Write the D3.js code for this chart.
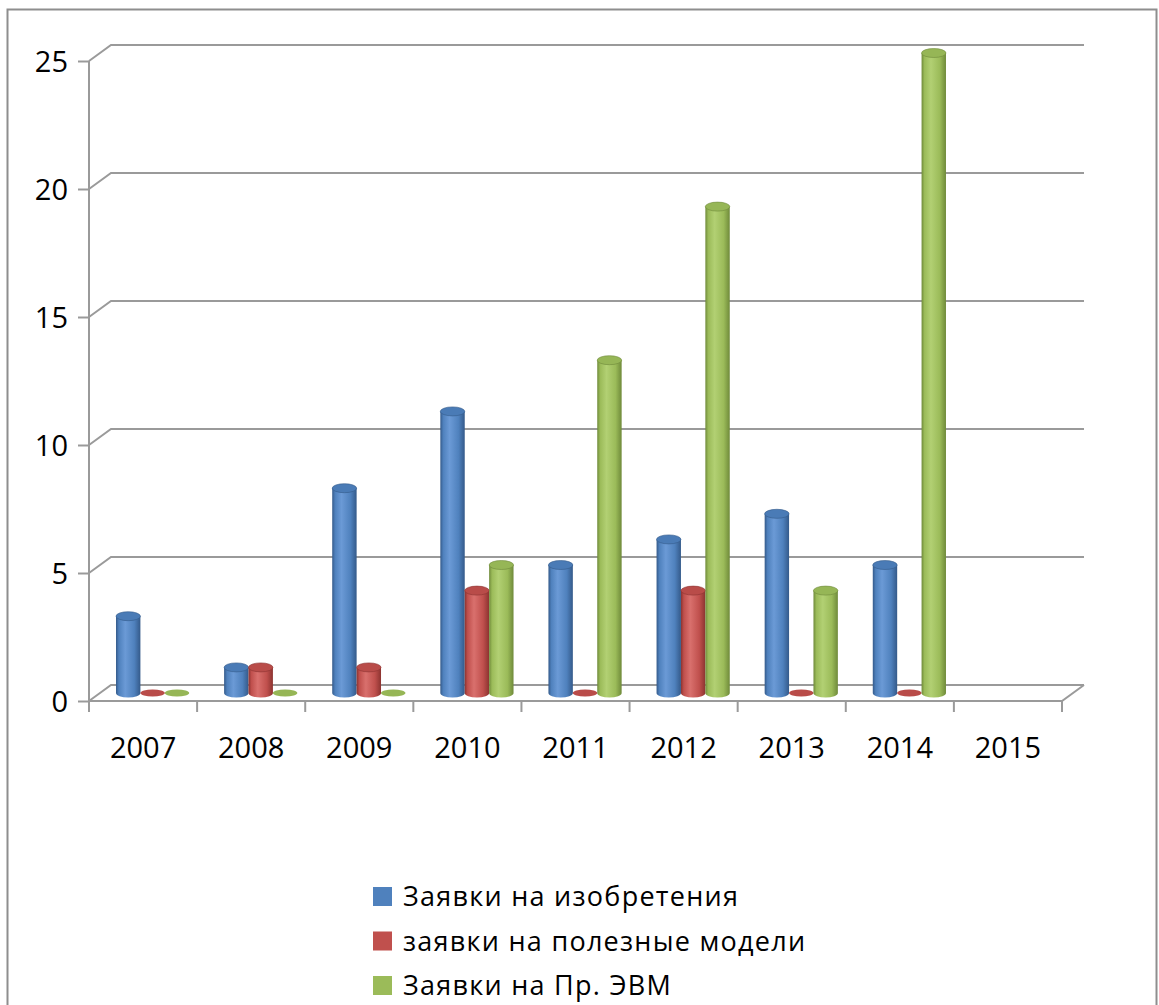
<!DOCTYPE html>
<html>
<head>
<meta charset="utf-8">
<script src="https://cdn.jsdelivr.net/npm/d3@7"></script>
<style>
  body { margin: 0; background: #fff; }
  svg { display: block; }
  text { font-family: "Open Sans", "Noto Sans", sans-serif; fill: #000; }
</style>
</head>
<body>
<div id="chart"></div>
<script>
// data
const years = ["2007", "2008", "2009", "2010", "2011", "2012", "2013", "2014", "2015"];
const seriesNames = ["Заявки на изобретения", "заявки на полезные модели", "Заявки на Пр. ЭВМ"];
const inventions = [3, 1, 8, 11, 5, 6, 7, 5, null];
const utilityModels = [0, 1, 1, 4, 0, 4, 0, 0, null];
const software = [0, 0, 0, 5, 13, 19, 4, 25, null];
const yTicks = [0, 5, 10, 15, 20, 25];

const seriesValues = [inventions, utilityModels, software];
const colors = [
    {base: "#4f81bd", dark: "#345a8a", light: "#6b9ad6", top: "#4a7bb6"},
    {base: "#c0504d", dark: "#8c3330", light: "#d9706d", top: "#b94c49"},
    {base: "#9bbb59", dark: "#6f8a3a", light: "#b2d073", top: "#96b656"}
];

const W = 1159, H = 1005;
const svg = d3.select("#chart").append("svg")
    .attr("width", W)
    .attr("height", H);

// depth offset for the 3d back wall
const dx = 22, dy = -16;

const x = d3.scaleBand()
    .domain(years)
    .range([89, 1062]);

const inner = d3.scaleBand()
    .domain(d3.range(seriesValues.length))
    .range([27, 27 + 73.2]);

const y = d3.scaleLinear()
    .domain([0, 25])
    .range([701, 61]);

// gradients for the cylinder bodies
const defs = svg.append("defs");
colors.forEach((c, i) => {
    const g = defs.append("linearGradient")
        .attr("id", "cyl" + i)
        .attr("x1", "0%").attr("x2", "100%")
        .attr("y1", "0%").attr("y2", "0%");
    g.append("stop").attr("offset", "0%").attr("stop-color", c.dark);
    g.append("stop").attr("offset", "12%").attr("stop-color", c.base);
    g.append("stop").attr("offset", "38%").attr("stop-color", c.light);
    g.append("stop").attr("offset", "75%").attr("stop-color", c.base);
    g.append("stop").attr("offset", "100%").attr("stop-color", c.dark);
});

// outer frame
svg.append("rect")
    .attr("x", 7.5).attr("y", 9.5)
    .attr("width", 1149).attr("height", 1010)
    .attr("fill", "none")
    .attr("stroke", "#8e8e8e")
    .attr("stroke-width", 2);

const gridColor = "#9a9a9a";

// gridlines on the back wall
svg.append("g").selectAll("path")
    .data(yTicks)
    .join("path")
    .attr("d", d => {
        const yy = y(d);
        return "M" + x.range()[0] + "," + yy + "L" + (x.range()[0] + dx) + "," + (yy + dy) + "L" + (x.range()[1] + dx) + "," + (yy + dy);
    })
    .attr("fill", "none")
    .attr("stroke", gridColor)
    .attr("stroke-width", 2);

// floor front edge and right side
svg.append("path")
    .attr("d", "M" + x.range()[0] + "," + y(0) + "L" + x.range()[1] + "," + y(0) + "L" + (x.range()[1] + dx) + "," + (y(0) + dy))
    .attr("fill", "none")
    .attr("stroke", gridColor)
    .attr("stroke-width", 2);

// y axis
const yAxis = svg.append("g")
    .attr("transform", "translate(" + x.range()[0] + ",0)")
    .call(d3.axisLeft(y).tickValues(yTicks).tickSize(11).tickPadding(10));
yAxis.selectAll("line, path").attr("stroke", gridColor).attr("stroke-width", 2);
yAxis.select(".domain").attr("d", "M0," + y(25) + "V" + y(0));
yAxis.selectAll("text")
    .style("font-family", "'Open Sans', sans-serif")
    .style("font-size", "29px")
    .attr("dy", "0.36em");

// x axis category ticks and labels
const xAxis = svg.append("g");
xAxis.selectAll("line")
    .data(d3.range(years.length + 1))
    .join("line")
    .attr("x1", i => x.range()[0] + i * x.step())
    .attr("x2", i => x.range()[0] + i * x.step())
    .attr("y1", y(0))
    .attr("y2", y(0) + 11)
    .attr("stroke", gridColor)
    .attr("stroke-width", 2);
xAxis.selectAll("text")
    .data(years)
    .join("text")
    .attr("x", d => x(d) + x.bandwidth() / 2)
    .attr("y", 758)
    .attr("text-anchor", "middle")
    .style("font-size", "29px")
    .text(d => d);

// cylinders
const ry = 4.5;
const zBase = y(0) + dy / 2;
const bars = [];
seriesValues.forEach((vals, s) => {
    vals.forEach((v, i) => {
        if (v === null) return;
        bars.push({s: s, year: years[i], value: v});
    });
});

const cyl = svg.append("g").selectAll("g")
    .data(bars)
    .join("g");

cyl.each(function(d) {
    const g = d3.select(this);
    const w = inner.bandwidth();
    const x0 = x(d.year) + inner(d.s);
    const cx = x0 + w / 2;
    const yTop = y(d.value) + dy / 2;
    const c = colors[d.s];
    if (d.value > 0) {
        g.append("path")
            .attr("d", "M" + x0 + "," + yTop + "L" + x0 + "," + zBase +
                "A" + (w / 2) + "," + ry + " 0 0 0 " + (x0 + w) + "," + zBase +
                "L" + (x0 + w) + "," + yTop + "Z")
            .attr("fill", "url(#cyl" + d.s + ")");
        g.append("ellipse")
            .attr("cx", cx).attr("cy", yTop)
            .attr("rx", w / 2).attr("ry", ry)
            .attr("fill", c.top)
            .attr("stroke", c.dark)
            .attr("stroke-width", 0.6);
    } else {
        g.append("ellipse")
            .attr("cx", cx).attr("cy", zBase)
            .attr("rx", w / 2).attr("ry", ry - 1)
            .attr("fill", c.top);
    }
});

// legend
const legend = svg.append("g").selectAll("g")
    .data(seriesNames)
    .join("g")
    .attr("transform", (d, i) => "translate(373," + (887 + i * 44.5) + ")");
legend.append("rect")
    .attr("width", 19).attr("height", 19)
    .attr("fill", (d, i) => colors[i].base);
const legendText = legend.append("text")
    .attr("x", 30)
    .attr("y", 19)
    .style("font-size", "27px")
    .text(d => d);

// widen the letters a bit so the first label spans like the original (≈335px)
const firstNode = legendText.node();
const n = seriesNames[0].length;
const spacing = (335 - firstNode.getComputedTextLength()) / (n - 1);
legendText.style("letter-spacing", spacing + "px");
</script>
</body>
</html>
